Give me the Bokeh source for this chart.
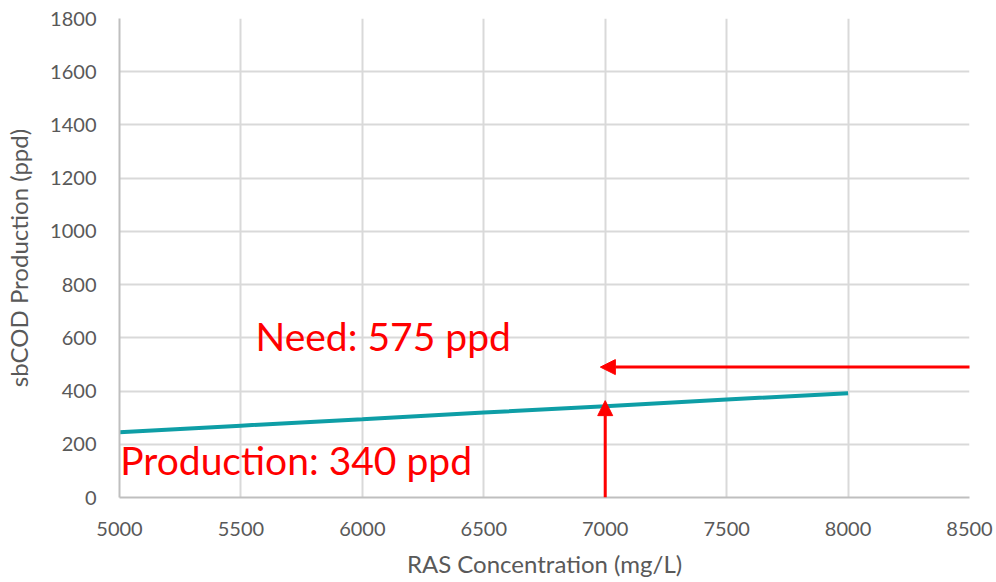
from bokeh.plotting import figure
from bokeh.models import Arrow, NormalHead, Label, Range1d, FixedTicker
from bokeh.embed import file_html
from bokeh.resources import INLINE

# Data
ras_concentration = [5000, 5500, 6000, 6500, 7000, 7500, 8000]
sbcod_production = [245, 270, 294, 319, 343, 368, 392]
x_ticks = [5000, 5500, 6000, 6500, 7000, 7500, 8000, 8500]
y_ticks = [0, 200, 400, 600, 800, 1000, 1200, 1400, 1600, 1800]
need_ppd = 490
need_label = "Need: 575 ppd"
prod_label = "Production: 340 ppd"
arrow_x = 7000
prod_tip = 364

FONT = "Lato"
GREY = "#595959"

p = figure(width=996, height=582, output_backend="svg", toolbar_location=None,
           x_range=Range1d(5000, 8500), y_range=Range1d(0, 1800),
           min_border_left=119, min_border_right=27, min_border_top=18,
           min_border_bottom=85)
p.outline_line_color = None
p.background_fill_color = "white"
p.border_fill_color = "white"

p.xaxis.ticker = FixedTicker(ticks=x_ticks)
p.yaxis.ticker = FixedTicker(ticks=y_ticks)
for ax in (p.xaxis, p.yaxis):
    ax.major_tick_line_color = None
    ax.minor_tick_line_color = None
    ax.axis_line_color = "#bfbfbf"
    ax.axis_line_width = 2
    ax.major_label_text_font = FONT
    ax.major_label_text_font_size = "20px"
    ax.major_label_text_color = GREY
    ax.axis_label_text_font = FONT
    ax.axis_label_text_font_size = "24px"
    ax.axis_label_text_font_style = "normal"
    ax.axis_label_text_color = GREY
p.xaxis.major_label_standoff = 18
p.yaxis.major_label_standoff = 17
p.xaxis.axis_label = "RAS Concentration (mg/L)"
p.yaxis.axis_label = "sbCOD Production (ppd)"
p.xaxis.axis_label_standoff = 10
p.yaxis.axis_label_standoff = 14

p.xgrid.grid_line_color = "#d9d9d9"
p.ygrid.grid_line_color = "#d9d9d9"
p.xgrid.grid_line_width = 2
p.ygrid.grid_line_width = 2

p.line(ras_concentration, sbcod_production, line_color="#0e9ea6", line_width=4)

red = "#ff0000"
p.add_layout(Arrow(end=NormalHead(size=15, fill_color=red, line_color=red),
                   x_start=arrow_x, y_start=0, x_end=arrow_x, y_end=prod_tip,
                   line_color=red, line_width=3))
p.add_layout(Arrow(end=NormalHead(size=15, fill_color=red, line_color=red),
                   x_start=8615, y_start=need_ppd, x_end=6980, y_end=need_ppd,
                   line_color=red, line_width=3))

p.add_layout(Label(x=5560, y=608, text=need_label, text_font=FONT,
                   text_font_size="39px", text_color=red, text_baseline="alphabetic"))
p.add_layout(Label(x=5003, y=140, text=prod_label, text_font=FONT,
                   text_font_size="39px", text_color=red, text_baseline="alphabetic"))

open("out.html", "w").write(file_html(p, INLINE))
